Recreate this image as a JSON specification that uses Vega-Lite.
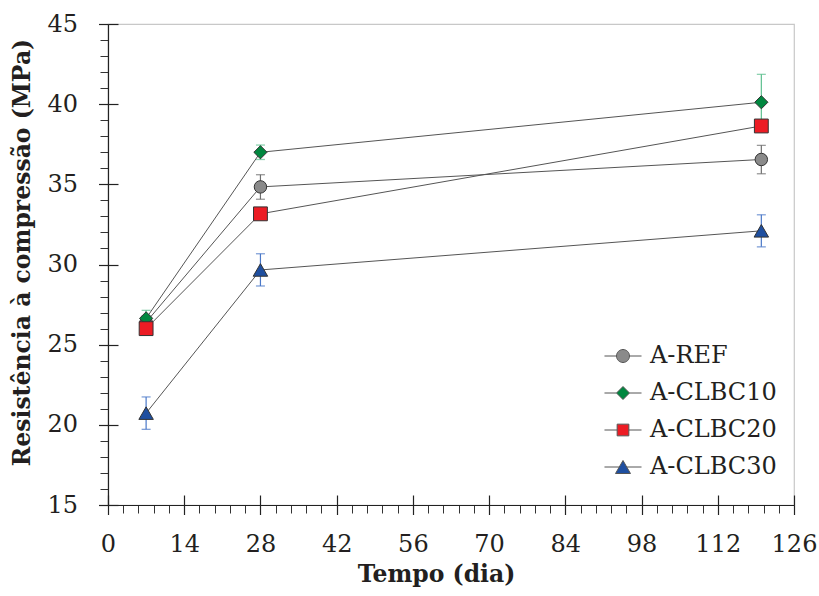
{
  "$schema": "https://vega.github.io/schema/vega-lite/v6.json",
  "width": 686,
  "height": 481,
  "autosize": {"type": "none"},
  "padding": {"left": 108, "top": 24, "right": 25, "bottom": 91},
  "background": "white",
  "config": {
    "view": {"stroke": "#c8c8c8", "strokeWidth": 1.2},
    "font": "DejaVu Serif"
  },
  "data": {
    "values": [
      {"series": "A-REF", "day": 7, "mean": 26.4, "lo": 26.0, "hi": 26.8},
      {"series": "A-REF", "day": 28, "mean": 34.84, "lo": 34.07, "hi": 35.6},
      {"series": "A-REF", "day": 120, "mean": 36.55, "lo": 35.66, "hi": 37.43},
      {"series": "A-CLBC10", "day": 7, "mean": 26.64, "lo": 26.14, "hi": 27.14},
      {"series": "A-CLBC10", "day": 28, "mean": 37.0, "lo": 36.55, "hi": 37.45},
      {"series": "A-CLBC10", "day": 120, "mean": 40.12, "lo": 38.38, "hi": 41.86},
      {"series": "A-CLBC20", "day": 7, "mean": 26.0, "lo": 25.7, "hi": 26.3},
      {"series": "A-CLBC20", "day": 28, "mean": 33.16, "lo": 32.9, "hi": 33.4},
      {"series": "A-CLBC20", "day": 120, "mean": 38.64, "lo": 38.3, "hi": 39.0},
      {"series": "A-CLBC30", "day": 7, "mean": 20.73, "lo": 19.72, "hi": 21.74},
      {"series": "A-CLBC30", "day": 28, "mean": 29.66, "lo": 28.66, "hi": 30.67},
      {"series": "A-CLBC30", "day": 120, "mean": 32.1, "lo": 31.1, "hi": 33.1}
    ]
  },
  "resolve": {"axis": {"x": "independent", "y": "independent"}, "scale": {"color": "independent", "shape": "independent"}},
  "layer": [
    {
      "mark": {"type": "rule", "strokeWidth": 1.2},
      "encoding": {
        "x": {"field": "day", "type": "quantitative", "scale": {"domain": [0, 126], "nice": false, "zero": false},
          "axis": {"orient": "bottom", "values": [0,2.8,5.6,8.4,11.2,14,16.8,19.6,22.4,25.2,28,30.8,33.6,36.4,39.2,42,44.8,47.6,50.4,53.2,56,58.8,61.6,64.4,67.2,70,72.8,75.6,78.4,81.2,84,86.8,89.6,92.4,95.2,98,100.8,103.6,106.4,109.2,112,114.8,117.6,120.4,123.2,126],
            "labels": false, "domain": false, "grid": false, "title": null, "tickSize": 8, "tickColor": "#333333", "tickWidth": 1}},
        "y": {"field": "lo", "type": "quantitative", "scale": {"domain": [15, 45], "nice": false, "zero": false},
          "axis": {"orient": "left", "values": [15,16,17,18,19,20,21,22,23,24,25,26,27,28,29,30,31,32,33,34,35,36,37,38,39,40,41,42,43,44,45],
            "labels": false, "domain": false, "grid": false, "title": null, "tickSize": 8, "tickColor": "#333333", "tickWidth": 1}},
        "y2": {"field": "hi"},
        "stroke": {"field": "series", "type": "nominal", "legend": null,
          "scale": {"domain": ["A-CLBC30", "A-CLBC20", "A-CLBC10", "A-REF"], "range": ["#4a78c8", "#d0443f", "#5cbf8e", "#6e6e6e"]}}
      }
    },
    {
      "mark": {"type": "tick", "orient": "horizontal", "size": 9, "thickness": 1.3},
      "encoding": {
        "x": {"field": "day", "type": "quantitative", "axis": null},
        "y": {"field": "lo", "type": "quantitative", "axis": null},
        "fill": {"field": "series", "type": "nominal", "legend": null,
          "scale": {"domain": ["A-CLBC30", "A-CLBC20", "A-CLBC10", "A-REF"], "range": ["#4a78c8", "#d0443f", "#5cbf8e", "#6e6e6e"]}}
      }
    },
    {
      "mark": {"type": "tick", "orient": "horizontal", "size": 9, "thickness": 1.3},
      "encoding": {
        "x": {"field": "day", "type": "quantitative", "axis": null},
        "y": {"field": "hi", "type": "quantitative", "axis": null},
        "fill": {"field": "series", "type": "nominal", "legend": null}
      }
    },
    {
      "mark": {"type": "line", "color": "#555555", "strokeWidth": 1},
      "encoding": {
        "x": {"field": "day", "type": "quantitative",
          "axis": {"orient": "bottom", "values": [0,14,28,42,56,70,84,98,112,126], "labels": false, "domain": false, "grid": false, "title": null, "tickSize": -10, "tickColor": "#222222", "tickWidth": 1.2}},
        "y": {"field": "mean", "type": "quantitative",
          "axis": {"orient": "left", "values": [15,20,25,30,35,40,45], "labels": false, "domain": false, "grid": false, "title": null, "tickSize": -10, "tickColor": "#222222", "tickWidth": 1.2}},
        "detail": {"field": "series", "type": "nominal"}
      }
    },
    {
      "mark": {"type": "point", "filled": true, "opacity": 1, "stroke": "#333333", "strokeWidth": 1},
      "encoding": {
        "x": {"field": "day", "type": "quantitative",
          "axis": {"orient": "bottom", "values": [0,14,28,42,56,70,84,98,112,126], "grid": false, "domain": true, "domainColor": "#222222", "domainWidth": 1.2,
            "tickSize": 9.5, "tickColor": "#222222", "tickWidth": 1.2, "labelPadding": 18, "labelFlush": false, "labelOverlap": false, "labelFont": "DejaVu Serif", "labelFontSize": 24, "labelColor": "#231f20",
            "title": "Tempo (dia)", "titleFont": "DejaVu Serif", "titleFontSize": 23.5, "titleFontWeight": "bold", "titleColor": "#231f20", "titlePadding": 6, "titleX": 328}},
        "y": {"field": "mean", "type": "quantitative",
          "axis": {"orient": "left", "values": [15,20,25,30,35,40,45], "grid": false, "domain": true, "domainColor": "#222222", "domainWidth": 1.2,
            "tickSize": 9.5, "tickColor": "#222222", "tickWidth": 1.2, "labelPadding": 21, "labelFlush": false, "labelOverlap": false, "labelFont": "DejaVu Serif", "labelFontSize": 24, "labelColor": "#231f20",
            "title": "Resistência à compressão (MPa)", "titleFont": "DejaVu Serif", "titleFontSize": 23.5, "titleFontWeight": "bold", "titleColor": "#231f20", "titlePadding": 12, "titleY": 228}},
        "color": {"field": "series", "type": "nominal", "legend": null,
          "scale": {"domain": ["A-REF", "A-CLBC10", "A-CLBC20", "A-CLBC30"], "range": ["#8a8a8a", "#00873f", "#ec1c24", "#1f4fa0"]}},
        "shape": {"field": "series", "type": "nominal", "legend": null,
          "scale": {"domain": ["A-CLBC30", "A-CLBC20", "A-CLBC10", "A-REF"], "range": ["triangle-up", "square", "M-1,0L0,-1L1,0L0,1Z", "circle"]}},
        "size": {"field": "series", "type": "nominal", "legend": null,
          "scale": {"domain": ["A-CLBC30", "A-CLBC20", "A-CLBC10", "A-REF"], "range": [210, 155, 180, 165]}}
      }
    },
    {
      "transform": [{"filter": "datum.day < 0"}],
      "mark": {"type": "point", "filled": true, "opacity": 1, "fillOpacity": 1, "stroke": "#555555", "strokeWidth": 1},
      "encoding": {
        "x": {"field": "day", "type": "quantitative", "axis": null},
        "y": {"field": "mean", "type": "quantitative", "axis": null},
        "color": {"field": "series", "type": "nominal",
          "scale": {"domain": ["A-REF", "A-CLBC10", "A-CLBC20", "A-CLBC30"], "range": ["#8a8a8a", "#00873f", "#ec1c24", "#1f4fa0"]},
          "legend": {"orient": "none", "legendX": 503, "legendY": 320, "title": null, "padding": 0,
            "labelFont": "DejaVu Serif", "labelFontSize": 24, "labelColor": "#231f20", "labelOffset": 15, "rowPadding": 13,
            "symbolSize": 169, "symbolOpacity": 1, "symbolStrokeColor": "#555555", "symbolStrokeWidth": 1}},
        "shape": {"field": "series", "type": "nominal",
          "scale": {"domain": ["A-REF", "A-CLBC10", "A-CLBC20", "A-CLBC30"],
            "range": ["M-2.85,0H-1M1,0H2.85M1,0A1,1,0,1,1,-1,0A1,1,0,1,1,1,0Z", "M-2.85,0H-1M1,0H2.85M-1,0L0,-1L1,0L0,1Z", "M-2.85,0H-0.9M0.9,0H2.85M-0.9,-0.9H0.9V0.9H-0.9Z", "M-2.85,0H-0.58M0.58,0H2.85M0,-1L1.15,1H-1.15Z"]}}
      }
    }
  ]
}
